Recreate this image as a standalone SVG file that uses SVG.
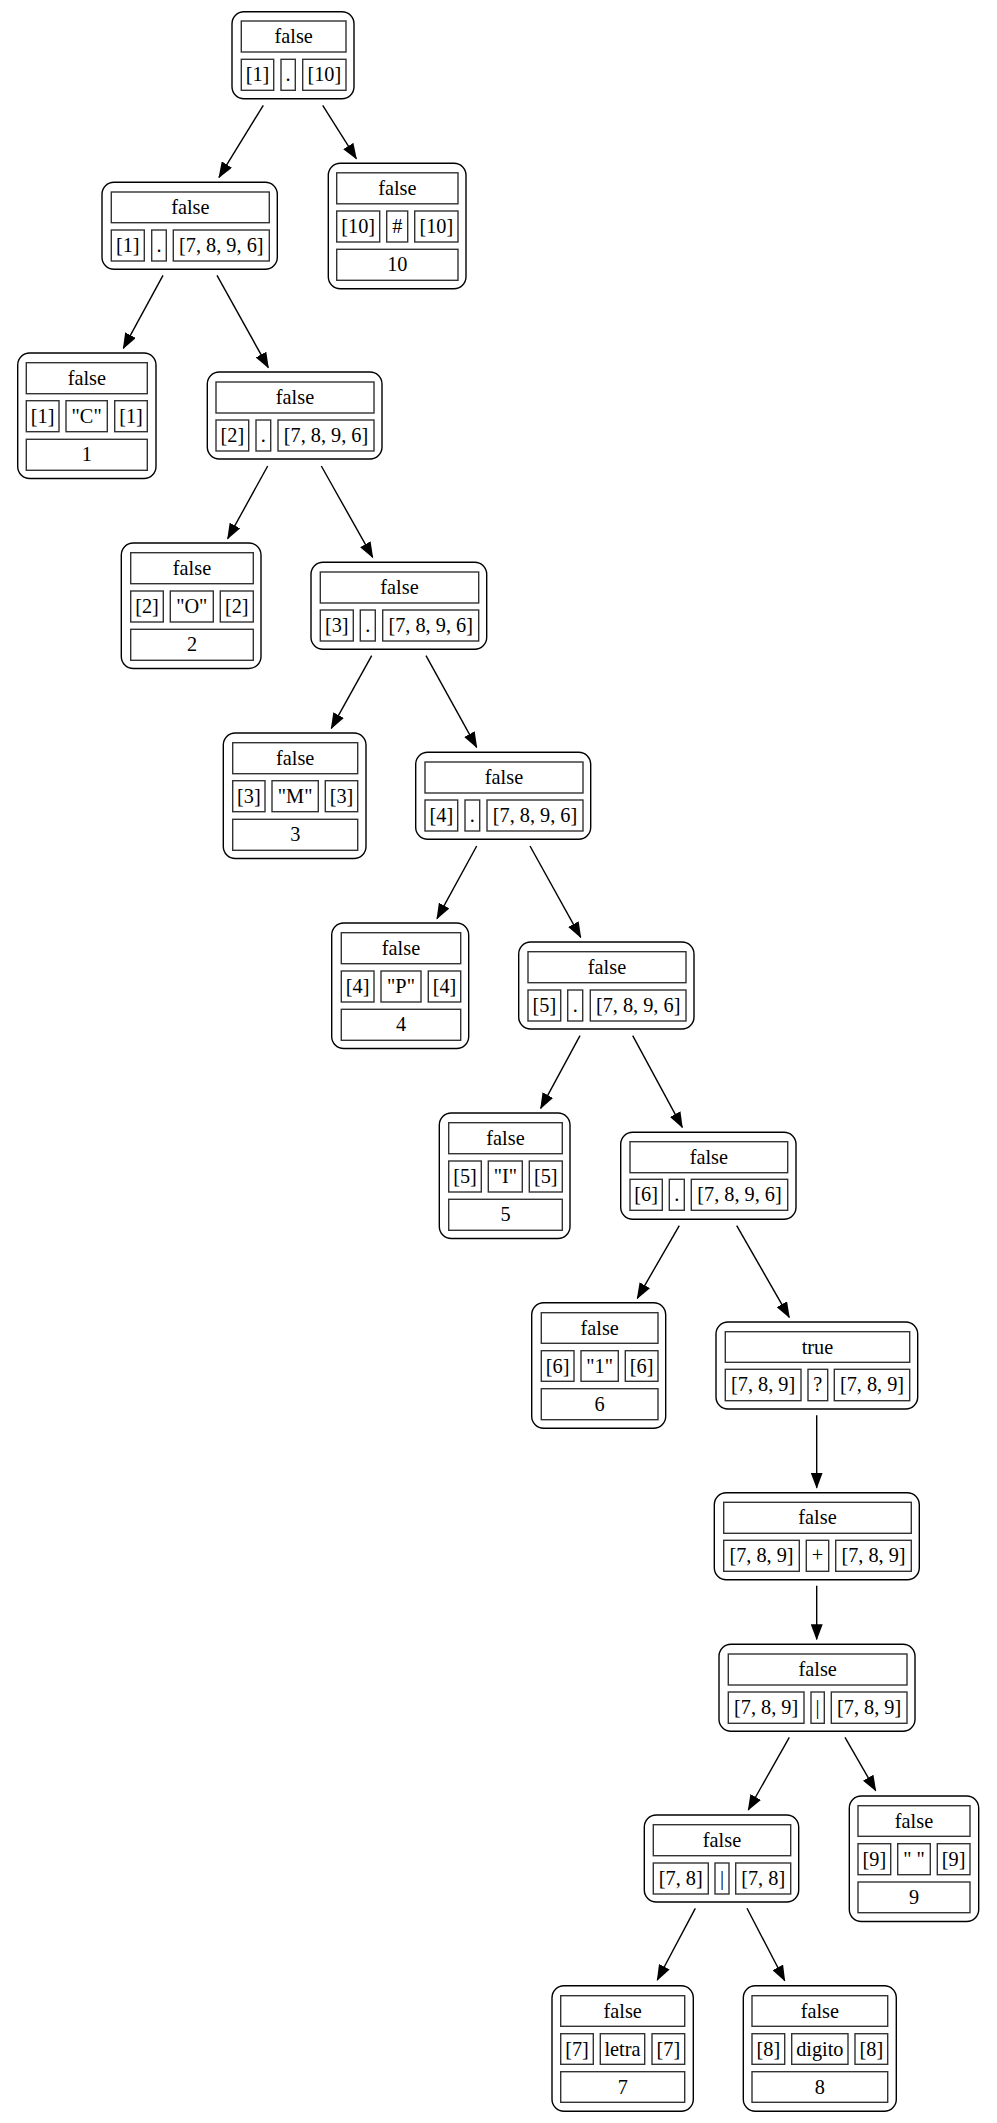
<svg xmlns="http://www.w3.org/2000/svg" width="997" height="2123" viewBox="0 0 997 2123">
<style>
.o{fill:#fff;stroke:#000;stroke-width:1.4}
.c{fill:none;stroke:#333;stroke-width:1.4}
text{font-family:"Liberation Serif","Times New Roman",serif;font-size:20.3px;fill:#000;text-anchor:middle}
.e{fill:none;stroke:#000;stroke-width:1.4;marker-end:url(#ah)}
</style>
<defs>
<marker id="ah" markerUnits="userSpaceOnUse" markerWidth="16" markerHeight="12" refX="15" refY="6" orient="auto">
<path d="M0,0 L16,6 L0,12 z" fill="#000"/>
</marker>
</defs>
<rect width="997" height="2123" fill="#fff"/>
<g id="edges">
<path class="e" d="M263.3,105.3 L219,177.3"/>
<path class="e" d="M322.7,105.3 L356.3,158.7"/>
<path class="e" d="M163,275.3 L123.3,348.3"/>
<path class="e" d="M217,275.3 L268.3,367.7"/>
<path class="e" d="M267.7,466 L227.7,538.7"/>
<path class="e" d="M321.3,466 L372.7,557.3"/>
<path class="e" d="M371.7,655.7 L331.3,728.3"/>
<path class="e" d="M426,655.7 L476.7,747.3"/>
<path class="e" d="M476.7,846 L437,918.7"/>
<path class="e" d="M530,846 L580.7,937.3"/>
<path class="e" d="M580,1035.7 L540.7,1108.3"/>
<path class="e" d="M632.7,1035.7 L682.3,1127.3"/>
<path class="e" d="M679.3,1225.7 L637.3,1298.3"/>
<path class="e" d="M736.7,1225.7 L789.3,1317.3"/>
<path class="e" d="M816.7,1415.3 L816.7,1487.7"/>
<path class="e" d="M816.7,1585.7 L816.7,1639.3"/>
<path class="e" d="M789.3,1737.3 L748.3,1810"/>
<path class="e" d="M845,1737.3 L875.7,1790.7"/>
<path class="e" d="M695.3,1908.3 L657.3,1980"/>
<path class="e" d="M747,1908.3 L784.7,1980.7"/>
</g>
<g id="n0">
<rect class="o" x="232" y="11.7" width="122" height="87" rx="12"/>
<rect class="c" x="241.3" y="21" width="104.7" height="31"/><text x="293.65" y="43">false</text>
<rect class="c" x="241.3" y="59.3" width="32.4" height="31"/><text x="257.5" y="81.3">[1]</text>
<rect class="c" x="281" y="59.3" width="14.3" height="31"/><text x="288.15" y="81.3">.</text>
<rect class="c" x="302.7" y="59.3" width="43.3" height="31"/><text x="324.35" y="81.3">[10]</text>
</g>
<g id="nA">
<rect class="o" x="102" y="182.3" width="175.3" height="87" rx="12"/>
<rect class="c" x="111.3" y="192" width="158" height="30.7"/><text x="190.3" y="214">false</text>
<rect class="c" x="111.3" y="230" width="33" height="31"/><text x="127.8" y="252">[1]</text>
<rect class="c" x="151.7" y="230" width="14.6" height="31"/><text x="159" y="252">.</text>
<rect class="c" x="173.3" y="230" width="96" height="31"/><text x="221.3" y="252">[7, 8, 9, 6]</text>
</g>
<g id="nB">
<rect class="o" x="207.3" y="372" width="174.7" height="87" rx="12"/>
<rect class="c" x="216" y="382" width="158" height="31"/><text x="295" y="404">false</text>
<rect class="c" x="216" y="420" width="32.7" height="31"/><text x="232.35" y="442">[2]</text>
<rect class="c" x="256" y="420" width="14.7" height="31"/><text x="263.35" y="442">.</text>
<rect class="c" x="278" y="420" width="96" height="31"/><text x="326" y="442">[7, 8, 9, 6]</text>
</g>
<g id="nC">
<rect class="o" x="311" y="562.3" width="175.7" height="87" rx="12"/>
<rect class="c" x="320.3" y="572" width="158.4" height="31"/><text x="399.5" y="594">false</text>
<rect class="c" x="320.3" y="610" width="33" height="31"/><text x="336.8" y="632">[3]</text>
<rect class="c" x="360.3" y="610" width="15" height="31"/><text x="367.8" y="632">.</text>
<rect class="c" x="382.7" y="610" width="96" height="31"/><text x="430.7" y="632">[7, 8, 9, 6]</text>
</g>
<g id="nD">
<rect class="o" x="415.7" y="752.3" width="175" height="87" rx="12"/>
<rect class="c" x="425" y="762" width="158" height="31"/><text x="504" y="784">false</text>
<rect class="c" x="425" y="800" width="32.7" height="31"/><text x="441.35" y="822">[4]</text>
<rect class="c" x="465" y="800" width="14.7" height="31"/><text x="472.35" y="822">.</text>
<rect class="c" x="487" y="800" width="96" height="31"/><text x="535" y="822">[7, 8, 9, 6]</text>
</g>
<g id="nE">
<rect class="o" x="518.7" y="942" width="175.3" height="87" rx="12"/>
<rect class="c" x="528" y="951.7" width="158" height="31"/><text x="607" y="973.7">false</text>
<rect class="c" x="528" y="990" width="32.7" height="31"/><text x="544.35" y="1012">[5]</text>
<rect class="c" x="567.7" y="990" width="15" height="31"/><text x="575.2" y="1012">.</text>
<rect class="c" x="590.3" y="990" width="95.7" height="31"/><text x="638.15" y="1012">[7, 8, 9, 6]</text>
</g>
<g id="nF">
<rect class="o" x="620.7" y="1132.3" width="175.3" height="87" rx="12"/>
<rect class="c" x="630" y="1141.7" width="157.7" height="31"/><text x="708.85" y="1163.7">false</text>
<rect class="c" x="630" y="1179.3" width="32.3" height="31"/><text x="646.15" y="1201.3">[6]</text>
<rect class="c" x="669.3" y="1179.3" width="15" height="31"/><text x="676.8" y="1201.3">.</text>
<rect class="c" x="691.3" y="1179.3" width="96.4" height="31"/><text x="739.5" y="1201.3">[7, 8, 9, 6]</text>
</g>
<g id="nTrue">
<rect class="o" x="716" y="1322" width="201.7" height="87" rx="12"/>
<rect class="c" x="725.3" y="1331.7" width="184.4" height="30.6"/><text x="817.5" y="1353.7">true</text>
<rect class="c" x="725.3" y="1369.3" width="75.7" height="31.4"/><text x="763.15" y="1391.3">[7, 8, 9]</text>
<rect class="c" x="808" y="1369.3" width="19.7" height="31.4"/><text x="817.85" y="1391.3">?</text>
<rect class="c" x="834.3" y="1369.3" width="75.4" height="31.4"/><text x="872" y="1391.3">[7, 8, 9]</text>
</g>
<g id="nPlus">
<rect class="o" x="714.3" y="1492.7" width="205" height="87" rx="12"/>
<rect class="c" x="723.7" y="1502.3" width="187.6" height="31"/><text x="817.5" y="1524.3">false</text>
<rect class="c" x="723.7" y="1540.3" width="75.6" height="31"/><text x="761.5" y="1562.3">[7, 8, 9]</text>
<rect class="c" x="806.3" y="1540.3" width="22.4" height="31"/><text x="817.5" y="1562.3">+</text>
<rect class="c" x="835.7" y="1540.3" width="75.6" height="31"/><text x="873.5" y="1562.3">[7, 8, 9]</text>
</g>
<g id="nBar">
<rect class="o" x="719" y="1644.3" width="196" height="87" rx="12"/>
<rect class="c" x="728.3" y="1654" width="178.7" height="31"/><text x="817.65" y="1676">false</text>
<rect class="c" x="728.3" y="1692" width="75.7" height="31.3"/><text x="766.15" y="1714">[7, 8, 9]</text>
<rect class="c" x="811" y="1692" width="13.3" height="31.3"/><text x="817.65" y="1714">|</text>
<rect class="c" x="831.3" y="1692" width="75.7" height="31.3"/><text x="869.15" y="1714">[7, 8, 9]</text>
</g>
<g id="nBar78">
<rect class="o" x="644.3" y="1815" width="154.4" height="87" rx="12"/>
<rect class="c" x="653.3" y="1824.7" width="137.4" height="31"/><text x="722" y="1846.7">false</text>
<rect class="c" x="653.3" y="1863" width="55" height="31"/><text x="680.8" y="1885">[7, 8]</text>
<rect class="c" x="715" y="1863" width="14" height="31"/><text x="722" y="1885">|</text>
<rect class="c" x="735.7" y="1863" width="55" height="31"/><text x="763.2" y="1885">[7, 8]</text>
</g>
<g id="n10">
<rect class="o" x="328.3" y="163.3" width="137.7" height="125.5" rx="12"/>
<rect class="c" x="336.7" y="172.8" width="121.3" height="31"/><text x="397.35" y="194.8">false</text>
<rect class="c" x="336.7" y="211" width="43" height="31"/><text x="358.2" y="233">[10]</text>
<rect class="c" x="386.7" y="211" width="21" height="31"/><text x="397.2" y="233">#</text>
<rect class="c" x="414.7" y="211" width="43.3" height="31"/><text x="436.35" y="233">[10]</text>
<rect class="c" x="336.7" y="249.3" width="121.3" height="31"/><text x="397.35" y="271.3">10</text>
</g>
<g id="n1">
<rect class="o" x="17.7" y="353" width="138.3" height="125.5" rx="12"/>
<rect class="c" x="26.3" y="362.7" width="121" height="31"/><text x="86.8" y="384.7">false</text>
<rect class="c" x="26.3" y="400.7" width="32.7" height="31"/><text x="42.65" y="422.7">[1]</text>
<rect class="c" x="66" y="400.7" width="41.3" height="31"/><text x="86.65" y="422.7">"C"</text>
<rect class="c" x="114.7" y="400.7" width="32.6" height="31"/><text x="131" y="422.7">[1]</text>
<rect class="c" x="26.3" y="439.3" width="121" height="31"/><text x="86.8" y="461.3">1</text>
</g>
<g id="n2">
<rect class="o" x="121.3" y="543" width="139.7" height="125.5" rx="12"/>
<rect class="c" x="130.7" y="552.7" width="122.6" height="31"/><text x="192" y="574.7">false</text>
<rect class="c" x="130.7" y="591" width="32.6" height="31"/><text x="147" y="613">[2]</text>
<rect class="c" x="170.3" y="591" width="43" height="31"/><text x="191.8" y="613">"O"</text>
<rect class="c" x="220.3" y="591" width="33" height="31"/><text x="236.8" y="613">[2]</text>
<rect class="c" x="130.7" y="629.3" width="122.6" height="31"/><text x="192" y="651.3">2</text>
</g>
<g id="n3">
<rect class="o" x="223.3" y="733" width="142.7" height="125.5" rx="12"/>
<rect class="c" x="232.7" y="742.7" width="125" height="31"/><text x="295.2" y="764.7">false</text>
<rect class="c" x="232.7" y="780.7" width="32.3" height="31"/><text x="248.85" y="802.7">[3]</text>
<rect class="c" x="272" y="780.7" width="46.3" height="31"/><text x="295.15" y="802.7">"M"</text>
<rect class="c" x="325.3" y="780.7" width="32.4" height="31"/><text x="341.5" y="802.7">[3]</text>
<rect class="c" x="232.7" y="819.3" width="125" height="31"/><text x="295.2" y="841.3">3</text>
</g>
<g id="n4">
<rect class="o" x="331.7" y="923" width="137" height="125.5" rx="12"/>
<rect class="c" x="341.3" y="932.7" width="119.4" height="31"/><text x="401" y="954.7">false</text>
<rect class="c" x="341.3" y="971" width="32.7" height="31"/><text x="357.65" y="993">[4]</text>
<rect class="c" x="381" y="971" width="40" height="31"/><text x="401" y="993">"P"</text>
<rect class="c" x="428.3" y="971" width="32.4" height="31"/><text x="444.5" y="993">[4]</text>
<rect class="c" x="341.3" y="1009.3" width="119.4" height="31"/><text x="401" y="1031.3">4</text>
</g>
<g id="n5">
<rect class="o" x="439.3" y="1113" width="130.7" height="125.5" rx="12"/>
<rect class="c" x="448.7" y="1122.7" width="113.6" height="31"/><text x="505.5" y="1144.7">false</text>
<rect class="c" x="448.7" y="1161" width="32.6" height="31"/><text x="465" y="1183">[5]</text>
<rect class="c" x="488.3" y="1161" width="34" height="31"/><text x="505.3" y="1183">"I"</text>
<rect class="c" x="529.3" y="1161" width="33" height="31"/><text x="545.8" y="1183">[5]</text>
<rect class="c" x="448.7" y="1199.3" width="113.6" height="31"/><text x="505.5" y="1221.3">5</text>
</g>
<g id="n6">
<rect class="o" x="531.7" y="1302.7" width="134" height="125.5" rx="12"/>
<rect class="c" x="541.3" y="1312.7" width="116.7" height="30.6"/><text x="599.65" y="1334.7">false</text>
<rect class="c" x="541.3" y="1350.7" width="32.7" height="30.6"/><text x="557.65" y="1372.7">[6]</text>
<rect class="c" x="581" y="1350.7" width="37.3" height="30.6"/><text x="599.65" y="1372.7">"1"</text>
<rect class="c" x="625.3" y="1350.7" width="32.7" height="30.6"/><text x="641.65" y="1372.7">[6]</text>
<rect class="c" x="541.3" y="1388.7" width="116.7" height="31"/><text x="599.65" y="1410.7">6</text>
</g>
<g id="n9">
<rect class="o" x="849.3" y="1796" width="129.4" height="125.5" rx="12"/>
<rect class="c" x="858" y="1805.7" width="112" height="30.6"/><text x="914" y="1827.7">false</text>
<rect class="c" x="858" y="1843.7" width="32.7" height="31"/><text x="874.35" y="1865.7">[9]</text>
<rect class="c" x="897.7" y="1843.7" width="32.6" height="31"/><text x="914" y="1865.7">"&#160;"</text>
<rect class="c" x="937.3" y="1843.7" width="32.7" height="31"/><text x="953.65" y="1865.7">[9]</text>
<rect class="c" x="858" y="1882" width="112" height="30.7"/><text x="914" y="1904">9</text>
</g>
<g id="n7">
<rect class="o" x="552" y="1985.7" width="141.3" height="125.5" rx="12"/>
<rect class="c" x="560.7" y="1995.7" width="124" height="30.6"/><text x="622.7" y="2017.7">false</text>
<rect class="c" x="560.7" y="2033.7" width="32.6" height="30.6"/><text x="577" y="2055.7">[7]</text>
<rect class="c" x="600.3" y="2033.7" width="44.4" height="30.6"/><text x="622.5" y="2055.7">letra</text>
<rect class="c" x="652" y="2033.7" width="32.7" height="30.6"/><text x="668.35" y="2055.7">[7]</text>
<rect class="c" x="560.7" y="2071.7" width="124" height="30.6"/><text x="622.7" y="2093.7">7</text>
</g>
<g id="n8">
<rect class="o" x="743.3" y="1985.7" width="153" height="125.5" rx="12"/>
<rect class="c" x="752" y="1995.7" width="135.7" height="30.6"/><text x="819.85" y="2017.7">false</text>
<rect class="c" x="752" y="2033.7" width="32.7" height="30.6"/><text x="768.35" y="2055.7">[8]</text>
<rect class="c" x="791.7" y="2033.7" width="56.3" height="30.6"/><text x="819.85" y="2055.7">digito</text>
<rect class="c" x="855" y="2033.7" width="32.7" height="30.6"/><text x="871.35" y="2055.7">[8]</text>
<rect class="c" x="752" y="2071.7" width="135.7" height="30.6"/><text x="819.85" y="2093.7">8</text>
</g>
</svg>
